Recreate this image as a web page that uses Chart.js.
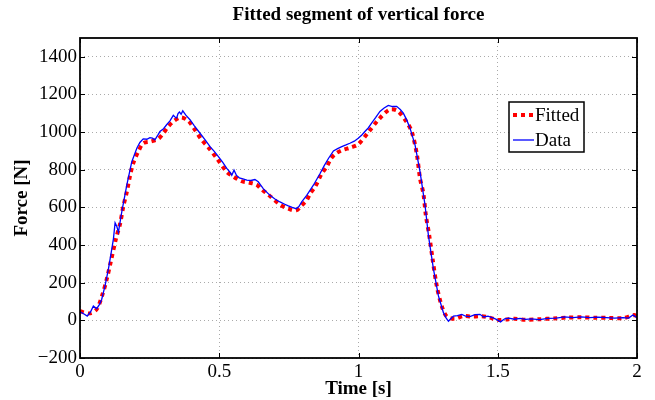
<!DOCTYPE html>
<html>
<head>
<meta charset="UTF-8">
<title>Fitted segment of vertical force</title>
<script src="https://cdn.jsdelivr.net/npm/chart.js"></script>
<style>
    body { margin: 0; background: #fff; }
    #wrap { width: 655px; height: 400px; }
</style>
</head>
<body>
<div id="wrap"><canvas id="graph"></canvas></div>
<script>
// measured force signal (blue)
const dataTime = [0, 0.013, 0.026, 0.038, 0.048, 0.06, 0.07, 0.078, 0.09, 0.102, 0.112, 0.12, 0.126, 0.132, 0.138, 0.15, 0.168, 0.186, 0.204, 0.215, 0.227, 0.24, 0.251, 0.26, 0.269, 0.28, 0.287, 0.3, 0.311, 0.323, 0.335, 0.341, 0.347, 0.352, 0.357, 0.363, 0.369, 0.38, 0.395, 0.41, 0.431, 0.45, 0.467, 0.482, 0.497, 0.512, 0.527, 0.54, 0.545, 0.553, 0.562, 0.572, 0.585, 0.599, 0.614, 0.628, 0.64, 0.658, 0.682, 0.7, 0.718, 0.735, 0.748, 0.762, 0.776, 0.786, 0.796, 0.814, 0.838, 0.862, 0.877, 0.892, 0.91, 0.925, 0.94, 0.955, 0.969, 0.985, 0.999, 1.012, 1.023, 1.035, 1.047, 1.062, 1.077, 1.092, 1.107, 1.122, 1.137, 1.15, 1.161, 1.173, 1.185, 1.203, 1.221, 1.239, 1.251, 1.269, 1.287, 1.305, 1.315, 1.323, 1.332, 1.341, 1.355, 1.371, 1.385, 1.4, 1.418, 1.436, 1.45, 1.465, 1.48, 1.495, 1.51, 1.525, 1.54, 1.56, 1.58, 1.6, 1.62, 1.65, 1.68, 1.71, 1.74, 1.77, 1.8, 1.83, 1.86, 1.89, 1.92, 1.95, 1.97, 1.985, 2.0];
const dataForce = [46, 35, 23, 45, 76, 62, 85, 112, 185, 272, 360, 433, 518, 500, 469, 576, 718, 843, 914, 945, 964, 962, 971, 968, 959, 985, 1003, 1018, 1039, 1060, 1089, 1080, 1075, 1098, 1107, 1095, 1113, 1090, 1066, 1035, 994, 957, 923, 898, 870, 840, 807, 785, 771, 798, 770, 757, 752, 745, 743, 748, 736, 700, 664, 645, 629, 617, 608, 600, 593, 605, 629, 664, 718, 780, 822, 860, 900, 912, 923, 932, 941, 952, 967, 985, 1003, 1022, 1048, 1078, 1110, 1128, 1142, 1136, 1137, 1120, 1101, 1065, 1021, 932, 789, 611, 451, 273, 130, 41, 12, -5, 10, 23, 25, 32, 22, 20, 30, 32, 18, 22, 15, 5, -8, 8, 12, 6, 10, 5, 8, 4, 10, 12, 18, 15, 18, 14, 17, 15, 12, 14, 12, 28, 15];

// fitted curve (red dotted)
const fitTime = [0, 0.034, 0.06, 0.081, 0.096, 0.11, 0.129, 0.144, 0.155, 0.168, 0.18, 0.191, 0.209, 0.227, 0.254, 0.281, 0.299, 0.317, 0.338, 0.363, 0.389, 0.407, 0.437, 0.461, 0.491, 0.527, 0.551, 0.581, 0.605, 0.634, 0.652, 0.676, 0.718, 0.748, 0.776, 0.796, 0.814, 0.826, 0.844, 0.868, 0.886, 0.901, 0.919, 0.943, 0.972, 0.999, 1.035, 1.071, 1.111, 1.14, 1.173, 1.191, 1.209, 1.221, 1.233, 1.242, 1.254, 1.266, 1.281, 1.299, 1.317, 1.346, 1.376, 1.406, 1.44, 1.47, 1.5, 1.53, 1.56, 1.6, 1.65, 1.7, 1.75, 1.8, 1.85, 1.9, 1.95, 1.99, 2.0];
const fitForce = [48, 37, 59, 139, 219, 308, 433, 513, 602, 682, 771, 834, 896, 941, 950, 964, 994, 1030, 1060, 1078, 1060, 1025, 959, 919, 861, 789, 763, 739, 732, 721, 696, 668, 615, 593, 584, 611, 638, 673, 709, 780, 816, 860, 887, 905, 918, 935, 999, 1065, 1119, 1113, 1053, 1003, 887, 754, 673, 557, 451, 326, 183, 76, 20, 9, 23, 20, 22, 15, 2, 5, 8, 3, 6, 10, 15, 16, 14, 13, 12, 28, 20];

const xTicks = [0, 0.5, 1, 1.5, 2];
const yTicks = [-200, 0, 200, 400, 600, 800, 1000, 1200, 1400];

const serif = '"Liberation Serif", "DejaVu Serif", serif';

function pts(xs, ys) {
    return xs.map((x, i) => ({x: x, y: ys[i]}));
}

// title, box, inner ticks and legend drawn MATLAB style
const matlabFrame = {
    id: 'matlabFrame',
    afterDraw(chart) {
        const c = chart.ctx;
        const a = chart.chartArea;
        const xs = chart.scales.x, ys = chart.scales.y;
        c.save();
        c.fillStyle = '#000';
        c.font = 'bold 19px ' + serif;
        c.textAlign = 'center';
        c.textBaseline = 'middle';
        c.fillText('Fitted segment of vertical force', (a.left + a.right) / 2, 15);

        c.strokeStyle = '#000';
        c.lineWidth = 1;
        c.beginPath();
        xTicks.forEach(v => {
            const px = Math.round(xs.getPixelForValue(v)) + 0.5;
            c.moveTo(px, a.bottom); c.lineTo(px, a.bottom - 5);
            c.moveTo(px, a.top); c.lineTo(px, a.top + 5);
        });
        yTicks.forEach(v => {
            const py = Math.round(ys.getPixelForValue(v)) + 0.5;
            c.moveTo(a.left, py); c.lineTo(a.left + 5, py);
            c.moveTo(a.right, py); c.lineTo(a.right - 5, py);
        });
        c.stroke();
        c.lineWidth = 1.8;
        c.strokeRect(a.left, a.top, a.right - a.left, a.bottom - a.top);

        // legend
        const lx = 509, ly = 102, lw = 75, lh = 50;
        c.fillStyle = '#fff';
        c.fillRect(lx, ly, lw, lh);
        c.lineWidth = 1.5;
        c.strokeRect(lx, ly, lw, lh);
        const items = [chart.data.datasets[1], chart.data.datasets[0]];
        items.forEach((ds, i) => {
            const y = ly + 13 + i * 25;
            c.save();
            c.strokeStyle = ds.borderColor;
            c.lineWidth = ds.borderWidth;
            c.setLineDash(ds.borderDash || []);
            c.beginPath();
            c.moveTo(lx + 4, y); c.lineTo(lx + 25, y);
            c.stroke();
            c.restore();
            c.fillStyle = '#000';
            c.font = '19px ' + serif;
            c.textAlign = 'left';
            c.fillText(ds.label, lx + 26, y + 1);
        });
        c.restore();
    }
};

const fmt = v => String(v).replace('-', '\u2212');

new Chart(document.getElementById('graph'), {
    type: 'line',
    data: {
        datasets: [{
            label: 'Data',
            data: pts(dataTime, dataForce),
            borderColor: '#0000ff',
            borderWidth: 1.3,
            pointRadius: 0,
            tension: 0,
            fill: false
        }, {
            label: 'Fitted',
            data: pts(fitTime, fitForce),
            borderColor: '#ff0000',
            borderWidth: 4,
            borderDash: [4, 4],
            borderCapStyle: 'butt',
            pointRadius: 0,
            tension: 0.3,
            fill: false
        }]
    },
    options: {
        responsive: true,
        maintainAspectRatio: false,
        animation: false,
        layout: { padding: { top: 38, right: 18, left: 0, bottom: 0 } },
        plugins: {
            legend: { display: false },
            tooltip: { enabled: false }
        },
        scales: {
            x: {
                type: 'linear',
                min: 0, max: 2,
                afterFit: s => { s.height = 42; },
                afterBuildTicks: s => { s.ticks = xTicks.map(v => ({value: v})); },
                grid: { color: '#aaaaaa', lineWidth: 1, drawTicks: false },
                border: { display: false, dash: [1, 3] },
                ticks: {
                    padding: 3,
                    color: '#000',
                    font: { family: serif, size: 19 },
                    maxRotation: 0,
                    callback: fmt
                },
                title: {
                    display: true,
                    text: 'Time [s]',
                    color: '#000',
                    font: { family: serif, size: 19, weight: 'bold' },
                    padding: { top: 0, bottom: 0 }
                }
            },
            y: {
                min: -200, max: 1500,
                afterFit: s => { s.width = 80; },
                afterBuildTicks: s => { s.ticks = yTicks.map(v => ({value: v})); },
                grid: { color: '#aaaaaa', lineWidth: 1, drawTicks: false },
                border: { display: false, dash: [1, 3] },
                ticks: {
                    padding: 3,
                    color: '#000',
                    font: { family: serif, size: 19 },
                    callback: fmt
                },
                title: {
                    display: true,
                    text: 'Force [N]',
                    color: '#000',
                    font: { family: serif, size: 19, weight: 'bold' },
                    padding: { top: 11, bottom: 0 }
                }
            }
        }
    },
    plugins: [matlabFrame]
});
</script>
</body>
</html>
